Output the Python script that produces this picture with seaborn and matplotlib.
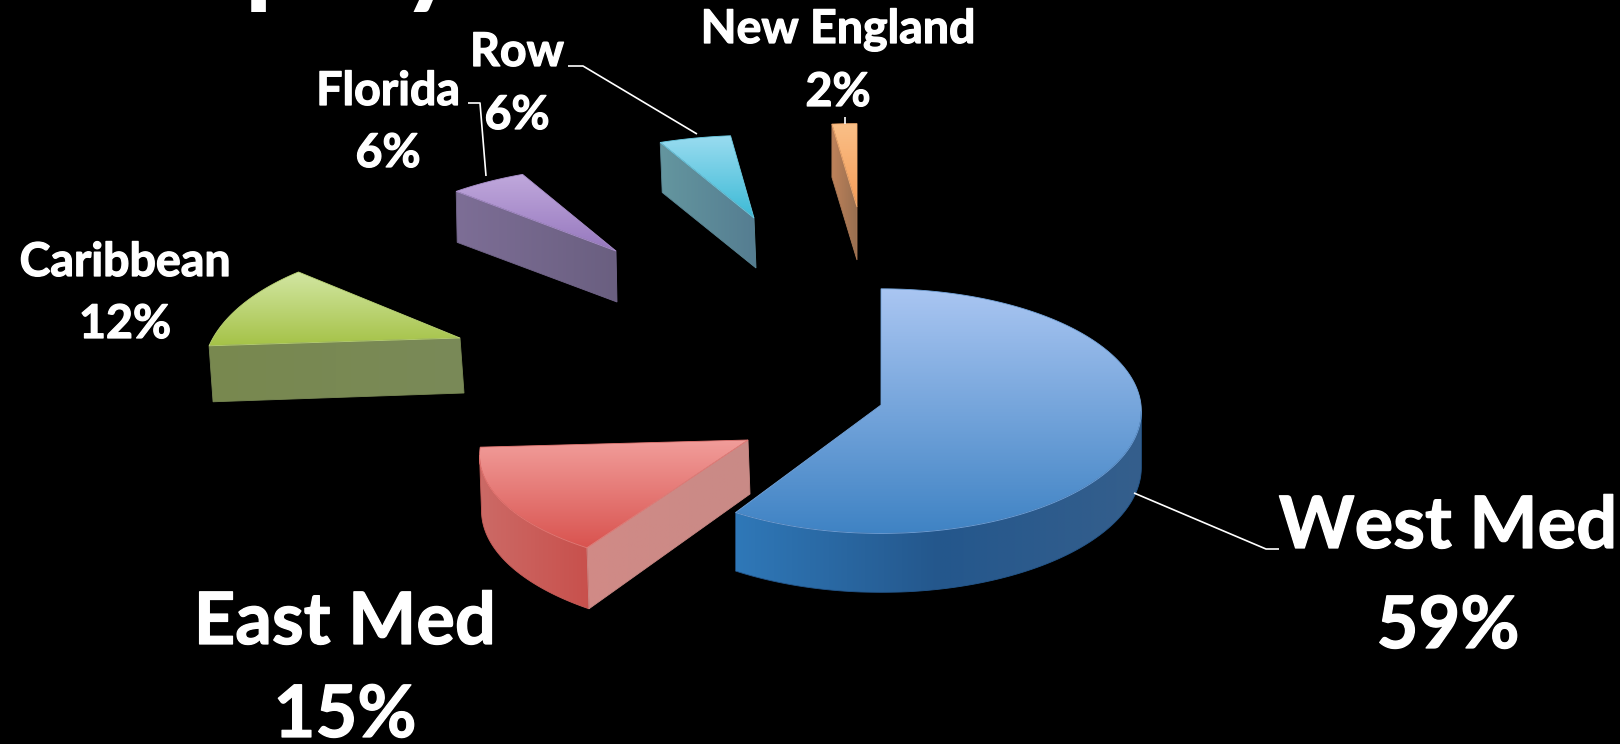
import numpy as np
import matplotlib
matplotlib.use("Agg")
import matplotlib.pyplot as plt
import matplotlib.patheffects as pe
import seaborn as sns
from matplotlib.patches import Polygon

# Share of capacity by region, percent
regions = ["West Med", "East Med", "Caribbean", "Florida", "Row", "New England"]
shares = [59, 15, 12, 6, 6, 2]

# Pulled-out offset of each slice from the pie centre, in pixels
offset_x = [0, -133, -421, -265, -127, -24]
offset_y = [0, 35, -67, -154, -187, -198]
# Ellipse radii, wall height, wall lean and foreshortening of each slice
radius_x = [260, 266, 247, 255, 280, 300]
radius_y = [122, 113, 122, 115, 124, 125]
wall = [56, 54, 55, 51, 50, 53]
lean = [0, 2, 4, 1, 2, 0]
foreshorten = [0.05, 0.136, 0.28, 0.36, 0.5, 0.5]

# Colour ramps: top surface (far to near), curved wall and cut wall (left to right)
top_ramp = [["#AAC6F2", "#3F83C4"], ["#F19D9A", "#D9534F"], ["#D2E6A2", "#A5C247"],
            ["#C0A8DC", "#9678BE"], ["#9ADCF0", "#3CBAD6"], ["#FAC088", "#F59C58"]]
rim_ramp = [["#2F78B8", "#24578C", "#355F8C"], ["#CC6A66", "#C8504C"], ["#7C8C55", "#7C8C55"],
            ["#7D6E96", "#6A5F80"], ["#64969F", "#557D91"], ["#BE825A", "#966E50"]]
cut_ramp = [["#2F78B8", "#2F78B8"], ["#D18A86", "#C98A86"], ["#78884F", "#7A8A58"],
            ["#7D6E96", "#6A5F80"], ["#64969F", "#557D91"], ["#BE825A", "#966E50"]]

label_x = [1448, 345, 125, 388, 517, 838]
name_y = [548, 644, 276, 105, 66, 43]
pct_y = [648, 737, 338, 167, 129, 106]
label_pt = [52, 52, 33.5, 33.5, 33.5, 33.5]

leaders = [([1134, 1266, 1279], [493, 549, 549]),
           ([468, 480, 486], [103, 103, 176]),
           ([568, 583, 697], [66, 66, 134]),
           ([845, 845], [117, 124])]

PIE_X, PIE_Y = 881, 405

sns.set_theme(style="dark", rc={"figure.facecolor": "black", "axes.facecolor": "black"})
plt.rcParams["font.family"] = ["Lato", "DejaVu Sans"]

fig = plt.figure(figsize=(16.2, 7.44), dpi=100)
ax = fig.add_axes([0, 0, 1, 1])
ax.set_axis_off()


def fill_ramp(points, colors, vertical):
    """Paint a polygon with a linear colour ramp clipped to its outline."""
    points = np.asarray(points)
    cmap = sns.blend_palette(colors, n_colors=256, as_cmap=True)
    ramp = np.linspace(0, 1, 256)
    ramp = ramp[:, None] if vertical else ramp[None, :]
    x0, y0 = points.min(axis=0)
    x1, y1 = points.max(axis=0)
    image = ax.imshow(ramp, cmap=cmap, extent=(x0, x1, y1, y0), aspect="auto",
                      interpolation="bilinear", vmin=0, vmax=1)
    patch = Polygon(points, closed=True, transform=ax.transData, fill=False, edgecolor="none")
    ax.add_patch(patch)
    image.set_clip_path(patch)
    # Thin outline hides the jagged clip boundary
    ax.add_patch(Polygon(points, closed=True, fill=False,
                         edgecolor=sns.blend_palette(colors, 3)[1], linewidth=0.6))


def slice_outline(i, start, stop):
    """Top-surface rim points of a slice, with the wall drop at each point."""
    theta = np.radians(np.linspace(start, stop, max(int(abs(stop - start)) * 2, 8)))
    v = np.sin(theta)
    scale = 1 / (1 + foreshorten[i] * v)
    x = PIE_X + offset_x[i] + radius_x[i] * np.cos(theta) * scale
    y = PIE_Y + offset_y[i] - radius_y[i] * v * scale
    return np.column_stack([x, y]), wall[i] * np.maximum(scale, 1)


# Slices run clockwise from twelve o'clock
edges = 90 - np.cumsum([0] + shares) * 3.6
draw_order = [5, 4, 3, 2, 1, 0]

for i in draw_order:
    start, stop = edges[i], edges[i + 1]
    rim, drop = slice_outline(i, start, stop)
    apex = np.array([PIE_X + offset_x[i], PIE_Y + offset_y[i]])
    shift = lean[i]

    # Travelling clockwise on screen, the outward normal of (dx, dy) is (dy, -dx)
    # in y-down pixels, so a wall faces the viewer where dx < 0
    steps = np.diff(rim, axis=0)
    facing = steps[:, 0] < 0
    run = []
    runs = []
    for k, seen in enumerate(facing):
        if seen:
            run.append(k)
        elif run:
            runs.append(run)
            run = []
    if run:
        runs.append(run)
    for run in runs:
        idx = list(range(run[0], run[-1] + 2))
        upper = rim[idx]
        lower = upper + np.column_stack([np.full(len(idx), shift), drop[idx]])
        fill_ramp(np.vstack([upper, lower[::-1]]), rim_ramp[i], False)

    # Cut walls: rim end back to apex, apex out to rim start
    for a, b, da, db in [(rim[-1], apex, drop[-1], wall[i]), (apex, rim[0], wall[i], drop[0])]:
        if b[0] - a[0] < 0:
            face = [a, b, b + [shift, db], a + [shift, da]]
            fill_ramp(face, cut_ramp[i], False)

    fill_ramp(np.vstack([apex, rim]), top_ramp[i], True)

for xs, ys in leaders:
    ax.plot(xs, ys, color="white", linewidth=1.2, solid_capstyle="butt")

# A hairline stroke thickens the bold face a little
heavy = [pe.withStroke(linewidth=0.9, foreground="white")]
for i, name in enumerate(regions):
    ax.text(label_x[i], name_y[i], name, color="white", fontsize=label_pt[i],
            fontweight="bold", ha="center", va="baseline", path_effects=heavy)
    ax.text(label_x[i], pct_y[i], f"{shares[i]}%", color="white", fontsize=label_pt[i],
            fontweight="bold", ha="center", va="baseline", path_effects=heavy)

# Heading runs off the top edge, only its descenders remain in frame
ax.text(277, -8, "p", color="white", fontsize=85, fontweight="bold", ha="center", va="baseline")
ax.text(431, -8, "y", color="white", fontsize=85, fontweight="bold", ha="center", va="baseline")

ax.set_xlim(0, 1620)
ax.set_ylim(744, 0)
fig.savefig("out.png", dpi=100, facecolor="black")
